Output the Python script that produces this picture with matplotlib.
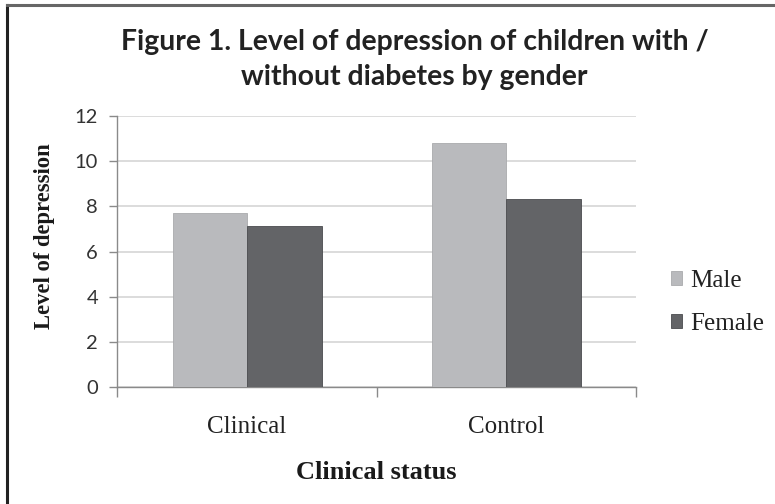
import numpy as np
import matplotlib.pyplot as plt
from matplotlib.lines import Line2D
from matplotlib.patches import Patch

# Level of depression by clinical status and gender
groups = ['Clinical', 'Control']
male = [7.72, 10.82]
female = [7.14, 8.31]
y_ticks = [0, 2, 4, 6, 8, 10, 12]

male_color = '#b9babd'
female_color = '#636467'

fig = plt.figure(figsize=(7.75, 5.04), dpi=100)
ax = fig.add_axes([0.1516, 0.2321, 0.8206 - 0.1516, 0.7698 - 0.2321])

x = np.arange(len(groups))
w = 0.287
ax.bar(x - w / 2, male, w, color=male_color, edgecolor='#a9aaad', linewidth=0.6, zorder=3)
ax.bar(x + w / 2, female, w, color=female_color, edgecolor='#4a4b4e', linewidth=0.6, zorder=3)

ax.set_xlim(-0.5, 1.5)
ax.set_ylim(0, 12)
ax.set_yticks(y_ticks)
ax.set_yticklabels([str(v) for v in y_ticks], fontsize=14.5, family='Lato', color='#333333')
ax.yaxis.grid(True, color='#d9d9d9', linewidth=1.3, zorder=0)
ax.set_axisbelow(True)

# category ticks sit between the groups, labels centred under each group
ax.set_xticks([-0.5, 0.5, 1.5])
ax.set_xticklabels([])
ax.set_xticks(x, minor=True)
ax.set_xticklabels(groups, minor=True, fontsize=18, family='Liberation Serif', color='#222222')
ax.tick_params(axis='x', which='minor', length=0, pad=21)
ax.tick_params(axis='x', which='major', length=7, color='#8a8a8a', width=1)
ax.tick_params(axis='y', length=6, color='#8a8a8a', width=1, pad=8)

for s in ['top', 'right']:
    ax.spines[s].set_visible(False)
for s in ['left', 'bottom']:
    ax.spines[s].set_color('#8a8a8a')
    ax.spines[s].set_linewidth(1)

fig.text(0.486, 0.063, 'Clinical status', ha='center', va='center', fontsize=19,
         family='Liberation Serif', fontweight='bold', color='#1a1a1a')
fig.text(0.057, 0.532, 'Level of depression', ha='center', va='center', rotation=90,
         fontsize=16.3, family='Liberation Serif', fontweight='bold', color='#1a1a1a')

fig.text(0.535, 0.882, 'Figure 1. Level of depression of children with /\nwithout diabetes by gender',
         ha='center', va='center', fontsize=20.4, family='Lato', fontweight='bold',
         color='#222222', linespacing=1.4)

handles = [Patch(facecolor=male_color, edgecolor='#a9aaad', linewidth=0.6, label='Male'),
           Patch(facecolor=female_color, edgecolor='#4a4b4e', linewidth=0.6, label='Female')]
fig.legend(handles=handles, loc='center left', bbox_to_anchor=(0.866, 0.4), frameon=False,
           prop={'family': 'Liberation Serif', 'size': 18}, handlelength=0.45, handleheight=0.45,
           handletextpad=0.3, labelspacing=0.85, labelcolor='#222222',
           borderpad=0, borderaxespad=0)

# outer frame: top and left edges only
fig.add_artist(Line2D([6.5 / 775, 6.5 / 775], [0, 1 - 5 / 504], transform=fig.transFigure,
                      color='#222222', linewidth=2.2))
fig.add_artist(Line2D([6.5 / 775, 1], [1 - 5 / 504, 1 - 5 / 504], transform=fig.transFigure,
                      color='#666666', linewidth=2.2))

fig.savefig('out.png', dpi=100, facecolor='white')
